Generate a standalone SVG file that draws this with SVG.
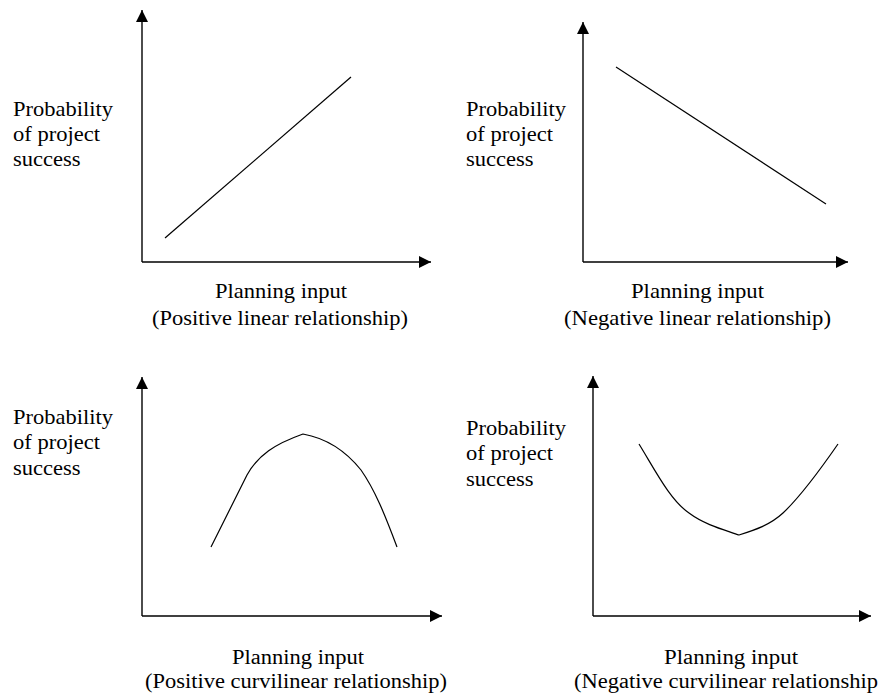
<svg xmlns="http://www.w3.org/2000/svg" width="882" height="698" viewBox="0 0 882 698">
<defs>
<style>
.ax{stroke:#000;stroke-width:1.4;fill:none;marker-end:url(#ah)}
.cv{stroke:#000;stroke-width:1.2;fill:none}
text{font-family:"Liberation Serif","Times New Roman",serif;font-size:22px;fill:#000}
.sm{font-size:20.5px}
</style>
<marker id="ah" markerUnits="userSpaceOnUse" markerWidth="13" markerHeight="13" refX="12" refY="6" orient="auto">
<path d="M0,0 L12,6 L0,12 z" fill="#000"/>
</marker>
</defs>
<rect width="882" height="698" fill="#fff"/>

<g id="chart-positive-linear">
<g id="axes-pl">
<line class="ax" x1="142" y1="262" x2="142" y2="10"/>
<line class="ax" x1="142" y1="262" x2="431" y2="262"/>
</g>
<line class="cv" x1="165" y1="238" x2="351" y2="77"/>
<text x="13" y="116" textLength="100" lengthAdjust="spacingAndGlyphs">Probability</text>
<text x="13" y="141" textLength="87" lengthAdjust="spacingAndGlyphs">of project</text>
<text x="13" y="166" textLength="67.5" lengthAdjust="spacingAndGlyphs">success</text>
<text x="215" y="298" textLength="132" lengthAdjust="spacingAndGlyphs">Planning input</text>
<text x="152" y="325" textLength="256" lengthAdjust="spacingAndGlyphs">(Positive linear relationship)</text>
</g>

<g id="chart-negative-linear">
<g id="axes-nl">
<line class="ax" x1="583" y1="262" x2="583" y2="22"/>
<line class="ax" x1="583" y1="262" x2="848" y2="262"/>
</g>
<line class="cv" x1="616" y1="67" x2="826" y2="204"/>
<text x="466" y="116" textLength="100" lengthAdjust="spacingAndGlyphs">Probability</text>
<text x="466" y="141" textLength="87" lengthAdjust="spacingAndGlyphs">of project</text>
<text x="466" y="166" textLength="67.5" lengthAdjust="spacingAndGlyphs">success</text>
<text x="631" y="298" textLength="133" lengthAdjust="spacingAndGlyphs">Planning input</text>
<text x="564" y="325" textLength="267" lengthAdjust="spacingAndGlyphs">(Negative linear relationship)</text>
</g>

<g id="chart-positive-curvilinear">
<g id="axes-pc">
<line class="ax" x1="142" y1="616" x2="142" y2="377"/>
<line class="ax" x1="142" y1="616" x2="442" y2="616"/>
</g>
<path class="cv" d="M211,547 L247,475 C258,455 275,444 303,434 C325,438 345,450 361,470 C375,490 385,515 397,547"/>
<text x="13" y="424" textLength="100" lengthAdjust="spacingAndGlyphs">Probability</text>
<text x="13" y="449" textLength="87" lengthAdjust="spacingAndGlyphs">of project</text>
<text x="13" y="475" textLength="67.5" lengthAdjust="spacingAndGlyphs">success</text>
<text class="sm" x="232" y="664" textLength="132" lengthAdjust="spacingAndGlyphs">Planning input</text>
<text class="sm" x="145" y="688" textLength="302" lengthAdjust="spacingAndGlyphs">(Positive curvilinear relationship)</text>
</g>

<g id="chart-negative-curvilinear">
<g id="axes-nc">
<line class="ax" x1="593" y1="616" x2="593" y2="376"/>
<line class="ax" x1="593" y1="616" x2="871" y2="616"/>
</g>
<path class="cv" d="M639,444 C655,470 670,500 689,513 C705,525 725,530 739,535 C755,530 770,525 783,513 C800,497 820,470 838,444"/>
<text x="466" y="435" textLength="100" lengthAdjust="spacingAndGlyphs">Probability</text>
<text x="466" y="460" textLength="87" lengthAdjust="spacingAndGlyphs">of project</text>
<text x="466" y="486" textLength="67.5" lengthAdjust="spacingAndGlyphs">success</text>
<text class="sm" x="664" y="664" textLength="134" lengthAdjust="spacingAndGlyphs">Planning input</text>
<text class="sm" x="574" y="688" textLength="304" lengthAdjust="spacingAndGlyphs">(Negative curvilinear relationship</text>
</g>
</svg>
